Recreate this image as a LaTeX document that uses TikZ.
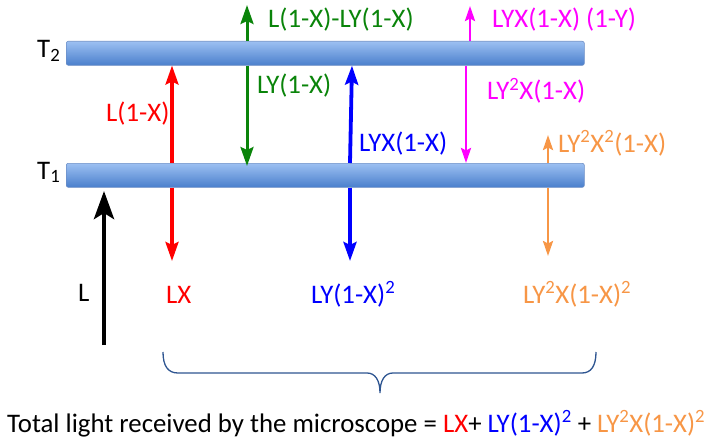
\documentclass[tikz,border=0pt]{standalone}
\usepackage{fontspec}
\setmainfont{Carlito}
\usetikzlibrary{arrows.meta}
\definecolor{cgreen}{HTML}{0A840A}
\definecolor{cblue}{HTML}{0000FF}
\definecolor{cmag}{HTML}{FF00FF}
\definecolor{corange}{HTML}{F79646}
\definecolor{cbrace}{HTML}{2E5591}
\definecolor{bartop}{HTML}{9CC0F2}
\definecolor{barbot}{HTML}{4A7FCC}
\definecolor{barline}{HTML}{6C8EC6}
\tikzset{
  bar/.style={draw=barline, line width=0.6pt, top color=bartop, bottom color=barbot,
    minimum width=518pt, minimum height=24pt, inner sep=0pt, rounded corners=2pt, anchor=north west},
  lbl/.style={anchor=base west, inner sep=0pt, font=\fontsize{26.8}{30}\selectfont},
  tipA/.style={-{Stealth[length=19pt,width=13pt,inset=3pt]}},
  tipB/.style={-{Stealth[length=15pt,width=10pt,inset=2.5pt]}},
  bigtip/.style={-{Stealth[length=28pt,width=20pt,inset=6pt]}},
}
\begin{document}
\begin{tikzpicture}[x=1pt,y=-1pt]
\useasboundingbox (0,0) rectangle (709,441);
% bars
\node[bar] (T2bar) at (66,41) {};
\node[bar] (T1bar) at (66,163) {};
\node[lbl] (T2lab) at (37,58) {T\textsubscript{2}};
\node[lbl] (T1lab) at (37,179) {T\textsubscript{1}};
% coordinates
\coordinate (xr) at (172,0);
\coordinate (xg) at (247,0);
\coordinate (xb) at (350,0);
\coordinate (xbt) at (352,0);
\coordinate (xm) at (466,0);
\coordinate (xmt) at (470,0);
\coordinate (xo) at (548,0);
\coordinate (blackTail) at (104,345);
\coordinate (blackTip) at (104,191);
\coordinate (redLow) at (172,261);
\coordinate (greenTop) at (247,5);
\coordinate (blueLow) at (350,261);
\coordinate (magTop) at (470,6);
\coordinate (orTop) at (548,135);
\coordinate (orLow) at (548,256);
% black
\draw[bigtip, line width=4.5pt] (blackTail) -- (blackTip);
\node[lbl] (Llab) at (78,301) {L};
% red
\draw[tipA, red, line width=3.2pt] (T1bar.north -| xr) -- (T2bar.south -| xr);
\draw[tipA, red, line width=3.2pt] (T1bar.south -| xr) -- (redLow);
\node[lbl, text=red] (rl1) at (106,122) {L(1-X)};
\node[lbl, text=red] (rl2) at (166,303) {LX};
% green
\draw[tipA, cgreen, line width=3pt] (T2bar.north -| xg) -- (greenTop);
\draw[tipA, cgreen, line width=3pt] (T2bar.south -| xg) -- ([yshift=-3pt]T1bar.north -| xg);
\node[lbl, text=cgreen] (gl1) at (268,28) {L(1-X)-LY(1-X)};
\node[lbl, text=cgreen] (gl2) at (257,94) {LY(1-X)};
% blue
\draw[tipA, cblue, line width=3.8pt] (T1bar.north -| xb) -- (T2bar.south -| xbt);
\draw[tipA, cblue, line width=3.8pt] (T1bar.south -| xb) -- (blueLow);
\node[lbl, text=cblue] (bl1) at (359,151) {LYX(1-X)};
\node[lbl, text=cblue] (bl2) at (311,303) {LY(1-X)\textsuperscript{2}};
% magenta
\draw[tipB, cmag, line width=2.8pt] (T2bar.north -| xmt) -- (magTop);
\draw[tipB, cmag, line width=2.8pt] (T2bar.south -| xm) -- (T1bar.north -| xm);
\node[lbl, text=cmag] (ml1) at (492,28) {LYX(1-X) (1-Y)};
\node[lbl, text=cmag] (ml2) at (487,100) {LY\textsuperscript{2}X(1-X)};
% orange
\draw[tipB, corange, line width=2.5pt] (T1bar.north -| xo) -- (orTop);
\draw[tipB, corange, line width=2.5pt] (T1bar.south -| xo) -- (orLow);
\node[lbl, text=corange] (ol1) at (558,152) {LY\textsuperscript{2}X\textsuperscript{2}(1-X)};
\node[lbl, text=corange] (ol2) at (523,303) {LY\textsuperscript{2}X(1-X)\textsuperscript{2}};
% brace
\draw[cbrace, line width=1.3pt] (163,352) .. controls (163,366) and (168,373) .. (178,373) -- (367,373)
  .. controls (375,373) and (380,380) .. (380,393)
  .. controls (380,380) and (385,373) .. (393,373) -- (582,373)
  .. controls (591,373) and (596,366) .. (596,352);
% total
\node[lbl] (total) at (7,432) {Total light received by the microscope = \textcolor{red}{LX}+ \textcolor{cblue}{LY(1-X)\textsuperscript{2}} + \textcolor{corange}{LY\textsuperscript{2}X(1-X)\textsuperscript{2}}};
\end{tikzpicture}
\end{document}
